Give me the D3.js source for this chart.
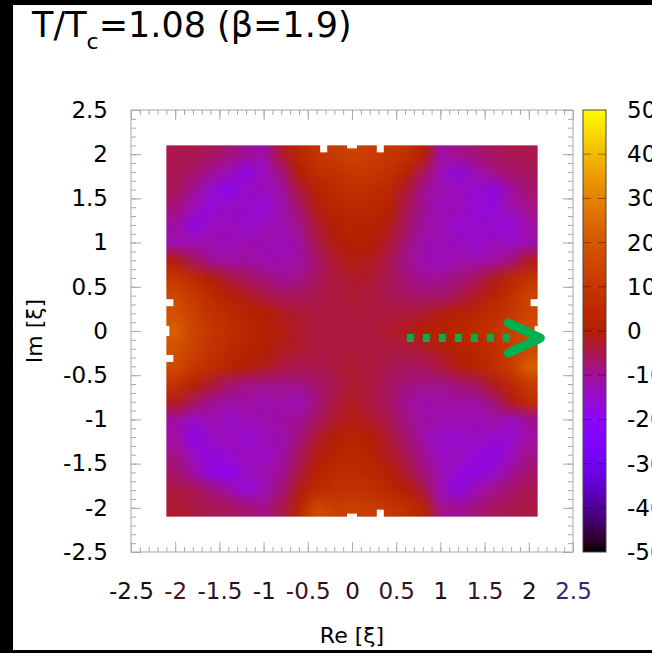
<!DOCTYPE html>
<html>
<head>
<meta charset="utf-8">
<script src="https://cdn.jsdelivr.net/npm/d3@7"></script>
<style>
body { margin: 0; background: #000; overflow: hidden; }
svg text { font-family: "DejaVu Sans", sans-serif; fill: #000; }
</style>
</head>
<body>
<div id="wrapper"></div>
<script>
// sample points (cell centres) of the map
const reValues = [-2.0,-1.8,-1.6,-1.4,-1.2,-1.0,-0.8,-0.6,-0.4,-0.2,0.0,0.2,0.4,0.6,0.8,1.0,1.2,1.4,1.6,1.8,2.0];
const imValues = [2.0,1.8,1.6,1.4,1.2,1.0,0.8,0.6,0.4,0.2,0.0,-0.2,-0.4,-0.6,-0.8,-1.0,-1.2,-1.4,-1.6,-1.8,-2.0];

// one row per Im value (top to bottom), one column per Re value
const zRows = [
  [-5,-5,-6,-8,-10,-12,-3,4,9,11,14,12,10,8,1,-11,-9,-8,-6,-5,-5],
  [-5,-7,-10,-13,-18,-13,-8,0,6,8,10,10,8,2,-6,-13,-17,-12,-9,-7,-6],
  [-6,-10,-15,-18,-14,-13,-11,-4,2,5,7,6,4,-3,-10,-12,-13,-15,-17,-11,-7],
  [-8,-13,-16,-14,-14,-16,-12,-7,-1,3,4,4,2,-5,-10,-13,-13,-16,-16,-12,-9],
  [-11,-17,-14,-13,-15,-13,-12,-9,-3,0,2,1,-1,-6,-11,-12,-15,-14,-15,-16,-11],
  [-12,-12,-12,-13,-12,-12,-13,-11,-5,-1,0,0,-3,-8,-12,-13,-13,-15,-13,-14,-12],
  [-1,-6,-10,-11,-11,-12,-12,-11,-7,-3,-1,-2,-5,-9,-12,-13,-12,-12,-11,-8,-2],
  [10,5,0,-4,-6,-8,-10,-9,-6,-4,-3,-3,-5,-8,-10,-10,-8,-6,-2,4,8],
  [15,10,5,1,-2,-4,-6,-6,-5,-4,-3,-4,-5,-6,-7,-7,-5,-2,2,7,14],
  [18,13,8,5,2,0,-2,-3,-4,-4,-4,-4,-4,-4,-3,-1,1,3,6,10,15],
  [22,14,10,6,3,1,-1,-3,-4,-4,-4,-4,-3,-2,0,1,3,6,9,13,17],
  [18,13,8,5,2,0,-2,-3,-4,-4,-4,-4,-4,-4,-3,-1,1,3,6,11,16],
  [16,10,6,2,0,-2,-4,-5,-5,-4,-3,-4,-5,-6,-6,-4,-1,2,6,12,22],
  [8,2,-3,-7,-9,-9,-9,-9,-7,-5,-3,-4,-6,-8,-9,-9,-8,-6,-2,5,11],
  [-2,-6,-10,-11,-11,-12,-11,-13,-8,-4,-2,-4,-6,-10,-12,-11,-11,-11,-8,-2,6],
  [-11,-14,-12,-14,-13,-12,-11,-10,-6,-3,-1,-3,-5,-9,-11,-12,-12,-13,-11,-14,-10],
  [-11,-18,-14,-13,-15,-13,-12,-8,-3,0,2,0,-3,-7,-12,-14,-15,-13,-15,-15,-11],
  [-9,-14,-17,-15,-13,-14,-11,-6,-1,2,4,2,-2,-5,-10,-14,-13,-16,-18,-13,-9],
  [-7,-11,-17,-19,-14,-12,-10,-4,2,5,6,4,1,-3,-8,-12,-16,-18,-14,-10,-7],
  [-4,-5,-8,-11,-16,-12,-8,-1,5,7,9,7,4,0,-4,-13,-17,-12,-9,-7,-5],
  [-3,-4,-5,-6,-7,-9,-5,3,16,12,13,12,10,7,2,-9,-10,-8,-6,-5,-4]
];

const axisTicks = [-2.5,-2,-1.5,-1,-0.5,0,0.5,1,1.5,2,2.5];
const cbTicks = [-50,-40,-30,-20,-10,0,10,20,30,40,50];

// missing points on the border of the map
const gapRe = [-0.32, 0.0, 0.32, 0.0, 0.32, -2.1, -2.1, -2.1, 2.1, 2.1];
const gapIm = [2.1, 2.1, 2.1, -2.1, -2.1, 0.32, 0.0, -0.31, 0.32, 0.0];
const gapShallow = [false, true, false, true, false, false, true, false, false, true];

// green dotted arrow (Re from, Re to, Im)
const arrowRe = [0.62, 2.13];
const arrowIm = -0.08;

const dimensions = {
  width: 652,
  height: 653,
  plot: { left: 131, top: 110, size: 442 },
  cbar: { left: 583, width: 23 },
};

const svg = d3.select("#wrapper").append("svg")
  .attr("width", dimensions.width)
  .attr("height", dimensions.height);

svg.append("rect").attr("width", dimensions.width).attr("height", dimensions.height).attr("fill", "#000");
svg.append("rect").attr("x", 13).attr("y", 5).attr("width", 639).attr("height", 645).attr("fill", "#fff");

const p = dimensions.plot;
const xScale = d3.scaleLinear().domain([-2.5, 2.5]).range([p.left, p.left + p.size]);
const yScale = d3.scaleLinear().domain([-2.5, 2.5]).range([p.top + p.size, p.top]);

// gnuplot default palette (rgbformulae 7,5,15)
const palette = t => d3.rgb(
  255 * Math.sqrt(t),
  255 * t * t * t,
  255 * Math.max(0, Math.sin(2 * Math.PI * t))
).formatHex();
const colorScale = d3.scaleSequential(palette).domain([-50, 50]).clamp(true);

// map: one pixel per sample, smoothed when stretched
const nx = reValues.length, ny = imValues.length;
const canvas = d3.create("canvas").attr("width", nx).attr("height", ny).node();
const ctx = canvas.getContext("2d");
zRows.forEach((row, j) => row.forEach((v, i) => {
  ctx.fillStyle = colorScale(v);
  ctx.fillRect(i, j, 1, 1);
}));
const half = (reValues[1] - reValues[0]) / 2;
const x0 = xScale(reValues[0] - half), x1 = xScale(reValues[nx - 1] + half);
const y0 = yScale(imValues[0] + half), y1 = yScale(imValues[ny - 1] - half);
svg.append("image")
  .attr("href", canvas.toDataURL())
  .attr("x", x0).attr("y", y0)
  .attr("width", x1 - x0).attr("height", y1 - y0)
  .attr("preserveAspectRatio", "none");

// notches where points are missing
svg.append("g").selectAll("rect")
  .data(gapRe.map((re, i) => ({ re, im: gapIm[i], shallow: gapShallow[i] })))
  .join("rect")
  .attr("fill", "#fff")
  .each(function (d) {
    const along = d.shallow ? 5 : 3.5, depth = d.shallow ? 3 : 7;
    const cx = xScale(d.re), cy = yScale(d.im);
    const onSide = Math.abs(d.re) > 2;
    d3.select(this)
      .attr("x", onSide ? cx - depth : cx - along)
      .attr("y", onSide ? cy - along : cy - depth)
      .attr("width", onSide ? 2 * depth : 2 * along)
      .attr("height", onSide ? 2 * along : 2 * depth);
  });

// frame and ticks
const tickColor = "#a8a8a8";
const minor = xScale.ticks(50);
const fmt = d => String(d);
function drawAxis(gen, transform, color) {
  const g = svg.append("g").attr("transform", transform).call(gen);
  g.select(".domain").remove();
  g.selectAll(".tick line").attr("stroke", color);
  return g;
}
const bottomLabels = drawAxis(d3.axisBottom(xScale).tickValues(axisTicks).tickSize(-10).tickSizeOuter(0).tickPadding(31).tickFormat(fmt),
  `translate(0,${p.top + p.size})`, "#c4a4ac");
drawAxis(d3.axisBottom(xScale).tickValues(minor).tickSize(-5).tickSizeOuter(0).tickFormat(""),
  `translate(0,${p.top + p.size})`, "#c4a4ac");
drawAxis(d3.axisTop(xScale).tickValues(axisTicks).tickSize(-10).tickSizeOuter(0).tickFormat(""),
  `translate(0,${p.top})`, tickColor);
drawAxis(d3.axisTop(xScale).tickValues(minor).tickSize(-5).tickSizeOuter(0).tickFormat(""),
  `translate(0,${p.top})`, tickColor);
const leftLabels = drawAxis(d3.axisLeft(yScale).tickValues(axisTicks).tickSize(-10).tickSizeOuter(0).tickPadding(23).tickFormat(fmt),
  `translate(${p.left},0)`, tickColor);
drawAxis(d3.axisLeft(yScale).tickValues(minor).tickSize(-5).tickSizeOuter(0).tickFormat(""),
  `translate(${p.left},0)`, tickColor);
drawAxis(d3.axisRight(yScale).tickValues(axisTicks).tickSize(-10).tickSizeOuter(0).tickFormat(""),
  `translate(${p.left + p.size},0)`, tickColor);
drawAxis(d3.axisRight(yScale).tickValues(minor).tickSize(-5).tickSizeOuter(0).tickFormat(""),
  `translate(${p.left + p.size},0)`, tickColor);

const xLabelColors = ["#111", "#4a1414", "#2a1030", "#1e0e1e", "#3a1020", "#2a0c16", "#3a1222", "#1e0e14", "#3a1420", "#1a0c14", "#3e2278"];
bottomLabels.selectAll(".tick text")
  .attr("font-size", 23)
  .attr("font-family", "DejaVu Sans")
  .style("fill", (d, i) => xLabelColors[i]);
leftLabels.selectAll(".tick text")
  .attr("font-size", 23)
  .attr("font-family", "DejaVu Sans");

svg.append("rect")
  .attr("x", p.left).attr("y", p.top)
  .attr("width", p.size).attr("height", p.size)
  .attr("fill", "none").attr("stroke", tickColor).attr("stroke-width", 1);

// annotation arrow
const ay = yScale(arrowIm);
svg.append("line")
  .attr("x1", xScale(arrowRe[0])).attr("x2", xScale(arrowRe[1]) - 30)
  .attr("y1", ay).attr("y2", ay)
  .attr("stroke", "#00b050").attr("stroke-width", 8)
  .attr("stroke-dasharray", "7 9");
svg.append("path")
  .attr("d", d3.line()([
    [xScale(arrowRe[1] - 0.36), yScale(arrowIm + 0.17)],
    [xScale(arrowRe[1]), ay],
    [xScale(arrowRe[1] - 0.36), yScale(arrowIm - 0.17)],
  ]))
  .attr("fill", "none").attr("stroke", "#00b050").attr("stroke-width", 9)
  .attr("stroke-linecap", "round").attr("stroke-linejoin", "round");

// colour box
const cb = dimensions.cbar;
const cbScale = d3.scaleLinear().domain([-50, 50]).range([p.top + p.size, p.top]);
const grad = svg.append("defs").append("linearGradient")
  .attr("id", "cbgrad").attr("x1", 0).attr("y1", 1).attr("x2", 0).attr("y2", 0);
grad.selectAll("stop")
  .data(d3.range(0, 1.0001, 0.02))
  .join("stop")
  .attr("offset", d => d)
  .attr("stop-color", d => palette(d));
svg.append("rect")
  .attr("x", cb.left).attr("y", p.top)
  .attr("width", cb.width).attr("height", p.size)
  .attr("fill", "url(#cbgrad)")
  .attr("stroke", "#444").attr("stroke-width", 1);

const cbTickG = svg.append("g");
cbTickG.selectAll("line.l")
  .data(cbTicks.slice(1, -1))
  .join("line")
  .attr("x1", cb.left).attr("x2", cb.left + 8)
  .attr("y1", d => cbScale(d)).attr("y2", d => cbScale(d))
  .attr("stroke", "#000").attr("stroke-opacity", 0.4);
cbTickG.selectAll("line.r")
  .data(cbTicks.slice(1, -1))
  .join("line")
  .attr("x1", cb.left + cb.width - 8).attr("x2", cb.left + cb.width)
  .attr("y1", d => cbScale(d)).attr("y2", d => cbScale(d))
  .attr("stroke", "#000").attr("stroke-opacity", 0.4);

svg.append("g").selectAll("text")
  .data(cbTicks)
  .join("text")
  .attr("x", 627)
  .attr("y", d => cbScale(d))
  .attr("dy", "0.35em")
  .attr("font-size", 23)
  .text(fmt);

// titles
const title = svg.append("text").attr("x", 32).attr("y", 37).attr("font-size", 35);
title.append("tspan").text("T/T");
title.append("tspan").attr("font-size", 22).attr("dy", 12).text("c");
title.append("tspan").attr("dy", -12).text("=1.08 (β=1.9)");

svg.append("text")
  .attr("x", xScale(0)).attr("y", 643)
  .attr("text-anchor", "middle").attr("font-size", 22)
  .text("Re [ξ]");
svg.append("text")
  .attr("transform", `translate(42,${yScale(0)}) rotate(-90)`)
  .attr("text-anchor", "middle").attr("font-size", 22)
  .text("Im [ξ]");
</script>
</body>
</html>
